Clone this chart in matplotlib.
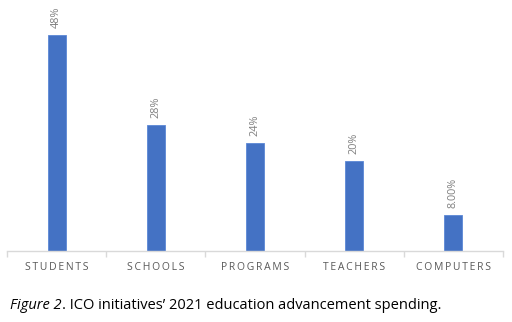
import matplotlib.pyplot as plt

categories = ["STUDENTS", "SCHOOLS", "PROGRAMS", "TEACHERS", "COMPUTERS"]
values = [48, 28, 24, 20, 8]
value_labels = ["48%", "28%", "24%", "20%", "8.00%"]

plt.rcParams['font.family'] = ['Open Sans', 'DejaVu Sans']

fig = plt.figure(figsize=(5.12, 3.22), dpi=100)
ax = fig.add_axes([7 / 512, 1 - 251 / 322, 496 / 512, 251 / 322])

x = list(range(len(categories)))
ax.bar(x, values, width=0.18, color="#4472C4", edgecolor="#5B87D6", linewidth=0.6)

for xi, v, lab in zip(x, values, value_labels):
    ax.annotate(lab, (xi, v), xytext=(0, 5), textcoords="offset points",
                rotation=90, ha="center", va="bottom", fontsize=7.8, color="#7F7F7F")

ax.set_xlim(-0.5, len(categories) - 0.5)
ax.set_ylim(0, 55.8)
ax.set_yticks([])
for s in ["top", "right", "left"]:
    ax.spines[s].set_visible(False)
ax.spines["bottom"].set_color("#D9D9D9")
ax.spines["bottom"].set_linewidth(1.0)

# tick marks between categories, labels at the centres
ax.set_xticks([i + 0.5 for i in range(-1, len(categories))])
ax.set_xticklabels([])
ax.tick_params(axis="x", length=4, color="#D9D9D9", width=1.0)
ax.set_xticks(x, minor=True)
ax.set_xticklabels(["\u2009".join(c) for c in categories], minor=True,
                   fontsize=7.5, color="#595959")
ax.tick_params(axis="x", which="minor", length=0, pad=8)

t1 = fig.text(10 / 512, 1 - 309 / 322, "Figure 2", fontsize=10.5, style="italic",
              color="black")
fig.canvas.draw()
ax.annotate(". ICO initiatives\u2019 2021 education advancement spending.",
            xy=(1, 0), xycoords=t1, va="bottom", fontsize=10.5, color="black",
            annotation_clip=False)

fig.savefig("out.png", dpi=100)
